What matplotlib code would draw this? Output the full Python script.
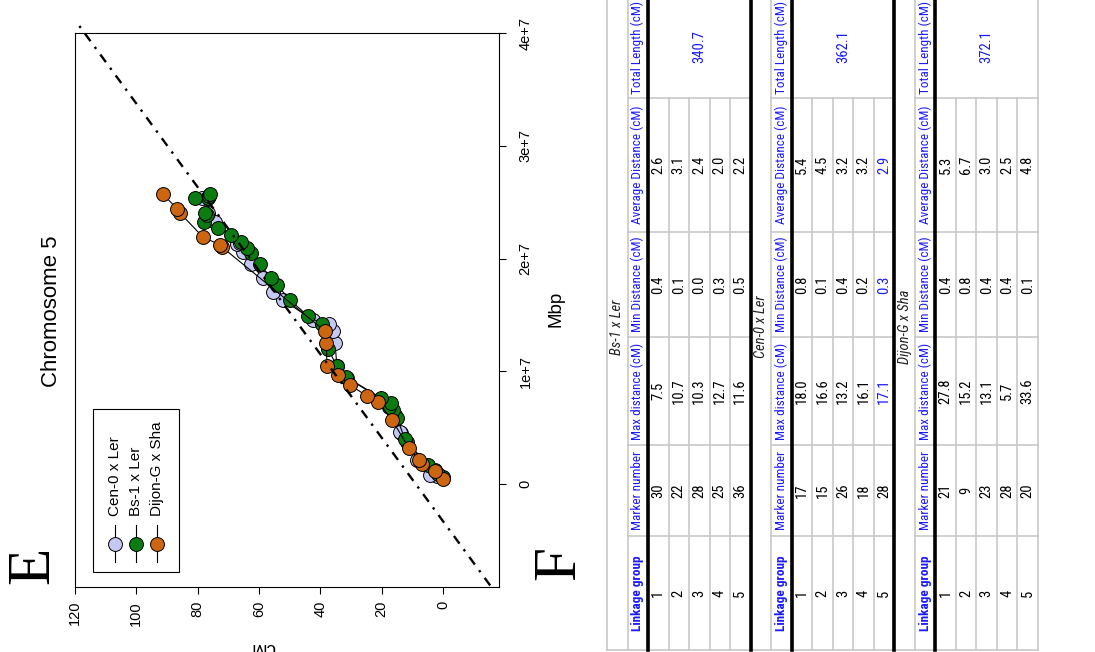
import matplotlib
matplotlib.use("Agg")
import matplotlib.pyplot as plt
import numpy as np
from matplotlib import font_manager
from matplotlib.patches import Rectangle

plt.rcParams["font.family"] = ["Liberation Sans", "DejaVu Sans"]

W, H = 1095, 652

# ── Chromosome 5: genetic map position (cM) against physical position (Mb) ──
cen0_mb = [0.71, 0.80, 2.13, 4.52, 4.62, 6.12, 7.10, 9.40, 10.47, 12.51, 13.57,
           14.19, 14.55, 16.32, 17.03, 18.27, 19.51, 20.58, 21.29, 21.37, 23.24,
           24.04, 25.37]
cen0_cm = [2.0, 4.2, 8.5, 13.7, 14.0, 15.7, 17.3, 31.3, 34.6, 35.2, 35.9,
           37.2, 42.4, 52.2, 55.4, 58.7, 62.6, 65.2, 67.2, 66.2, 74.3,
           76.6, 78.6]

bs1_mb = [0.62, 0.89, 1.24, 1.69, 3.73, 3.99, 5.85, 6.56, 6.83, 7.18, 7.63,
          9.49, 10.47, 11.97, 14.19, 14.90, 16.32, 17.65, 18.27, 19.51, 20.49,
          20.93, 21.46, 22.08, 22.71, 23.24, 23.86, 24.04, 25.37, 25.37, 25.50,
          25.72]
bs1_cm = [0.0, 1.6, 2.6, 4.9, 11.7, 12.4, 15.0, 16.3, 17.6, 16.9, 20.2,
          31.6, 34.6, 37.5, 39.5, 44.0, 49.9, 54.1, 56.1, 59.7, 62.6,
          63.9, 65.9, 69.1, 73.4, 77.9, 77.0, 77.6, 76.6, 80.9, 76.3,
          76.0]

dijon_mb = [0.44, 1.15, 1.78, 2.13, 3.19, 5.68, 7.27, 7.80, 8.78, 9.67, 10.47,
            12.51, 13.57, 21.02, 21.20, 21.91, 24.04, 24.39, 25.72]
dijon_cm = [0.0, 2.6, 6.8, 7.8, 11.1, 16.6, 21.2, 24.8, 30.3, 34.2, 37.8,
            38.1, 38.5, 72.1, 72.7, 78.3, 85.8, 86.7, 91.3]

# reference line through the map: cM = intercept + slope * Mb
ref_intercept = 8.9
ref_slope = 2.7

series_names = ["Cen-0 x Ler", "Bs-1 x Ler", "Dijon-G x Sha"]
series_colors = ["#c6c8f4", "#0b7b12", "#cc6612"]

cm_ticks = [0, 20, 40, 60, 80, 100, 120]
bp_ticks = [0, 1e7, 2e7, 3e7, 4e7]
bp_tick_labels = ["0", "1e+7", "2e+7", "3e+7", "4e+7"]

# ── Linkage map summary per cross ──
table_titles = ["Bs-1 x Ler", "Cen-0 x Ler", "Dijon-G x Sha"]
col_headers = ["Linkage group", "Marker number", "Max distance (cM)",
               "Min Distance (cM)", "Average Distance (cM)", "Total Length (cM)"]
linkage_groups = [1, 2, 3, 4, 5]
marker_number = [[30, 22, 28, 25, 36], [17, 15, 26, 18, 28], [21, 9, 23, 28, 20]]
max_dist = [[7.5, 10.7, 10.3, 12.7, 11.6], [18.0, 16.6, 13.2, 16.1, 17.1],
            [27.8, 15.2, 13.1, 5.7, 33.6]]
min_dist = [[0.4, 0.1, 0.0, 0.3, 0.5], [0.8, 0.1, 0.4, 0.2, 0.3],
            [0.4, 0.8, 0.4, 0.4, 0.1]]
avg_dist = [[2.6, 3.1, 2.4, 2.0, 2.2], [5.4, 4.5, 3.2, 3.2, 2.9],
            [5.3, 6.7, 3.0, 2.5, 4.8]]
total_length = [340.7, 362.1, 372.1]
# (table, row) -> columns printed in blue
highlighted = {(1, 4): [2, 3, 4]}

BLUE = "#1a1aff"
GREY = "#c8c8c8"

# the table wants a narrow face; use one if the system has it
installed = {f.name for f in font_manager.fontManager.ttflist}
narrow_face = next((n for n in ["Liberation Sans Narrow", "Roboto Condensed",
                                "Open Sans Condensed", "Noto Sans Condensed",
                                "DejaVu Sans Condensed"] if n in installed), None)
if narrow_face:
    NARROW = [narrow_face, "Liberation Sans"]
    cell_fs, head_fs, title_fs = 10.5, 9.5, 10.5
else:
    NARROW = ["Liberation Sans"]
    cell_fs, head_fs, title_fs = 8.5, 7.8, 8.5

fig = plt.figure(figsize=(W / 100, H / 100), dpi=100)

# ── Panel E: map position scatter, drawn turned on its side ──
ax = fig.add_axes([75 / W, 1 - 587 / H, 424 / W, 554 / H])
for mb, cm, color in zip([cen0_mb, bs1_mb, dijon_mb],
                         [cen0_cm, bs1_cm, dijon_cm], series_colors):
    ax.plot(cm, np.array(mb) * 1e6, "-o", color="black", lw=0.8,
            mfc=color, mec="black", mew=0.7, ms=10)

ref_bp = np.array([-0.9e7, 4.07e7])
ax.plot(ref_intercept + ref_slope * ref_bp / 1e6, ref_bp, color="black",
        lw=1.7, dashes=(4, 3, 1, 3), clip_on=False)

ax.set_xlim(120, -18.26)
ax.set_ylim(-0.9135e7, 4e7)
ax.set_xticks(cm_ticks)
ax.set_xticklabels([str(t) for t in cm_ticks], rotation=90, ha="center", va="top")
ax.yaxis.tick_right()
ax.set_yticks(bp_ticks)
ax.set_yticklabels(bp_tick_labels, rotation=90, ha="left", va="center")
ax.tick_params(axis="x", direction="out", length=5, width=0.8, labelsize=10.5, pad=5)
ax.tick_params(axis="y", direction="out", length=5, width=0.8, labelsize=10.5, pad=9)
for sp in ax.spines.values():
    sp.set_linewidth(0.8)

# overlay in pixel units for labels, legend and the table
ov = fig.add_axes([0, 0, 1, 1])
ov.set_xlim(0, W)
ov.set_ylim(H, 0)
ov.axis("off")

ov.text(52, 311, "Chromosome 5", rotation=90, ha="center", va="center", fontsize=16)
ov.text(556, 309, "Mbp", rotation=90, ha="center", va="center", fontsize=13.5)
ov.text(263, 639, "cM", rotation=180, ha="center", va="top", fontsize=13.5,
        clip_on=False)
ov.text(33, 565, "E", family="Liberation Serif", fontsize=44, rotation=90,
        ha="center", va="center")
ov.text(560, 563, "F", family="Liberation Serif", fontsize=44, rotation=90,
        ha="center", va="center")

# legend
ov.add_patch(Rectangle((93, 409), 86, 163, fill=False, ec="black", lw=0.8))
for i, (name, color) in enumerate(zip(series_names, series_colors)):
    lx = 115 + i * 21
    ov.plot([lx, lx], [525, 562], color="black", lw=0.8)
    ov.plot([lx], [544], "o", mfc=color, mec="black", mew=0.7, ms=10)
    ov.text(lx, 516, name, rotation=90, ha="center", va="bottom", fontsize=11)

# ── Panel F: summary tables ──
col_edges = [650, 536, 445, 337, 232, 98, -4]
strip = 20.5
block = 143.7
for k in range(3):
    x0 = 607 + k * block
    xh = x0 + strip
    xr = x0 + 2 * strip
    xe = xr + 5 * strip

    # grid
    if k == 0:
        ov.plot([x0, x0], [-12, 650], color=GREY, lw=1.2)
    ov.plot([xh, xh], [-12, 650], color=GREY, lw=1.2)
    for i in range(1, 5):
        xx = xr + i * strip
        ov.plot([xx, xx], [col_edges[5], 650], color=GREY, lw=1.2)
    for yy in col_edges[1:6]:
        ov.plot([xh, xe], [yy, yy], color=GREY, lw=1.2)
    ov.plot([xr, xr], [-12, 650], color="black", lw=2.6, zorder=3)
    if k < 2:
        ov.plot([xe, xe], [-12, 650], color="black", lw=2.6, zorder=3)
    else:
        ov.plot([xe, xe], [-12, 650], color=GREY, lw=1.2)

    ov.text(x0 + strip / 2, 327, table_titles[k], rotation=90, ha="center",
            va="center", fontsize=title_fs, style="italic", family=NARROW,
            color="#222222")

    centres = [(col_edges[j] + col_edges[j + 1]) / 2 for j in range(6)]
    for j, head in enumerate(col_headers):
        ov.text(xh + strip / 2, centres[j], head, rotation=90, ha="center",
                va="center", fontsize=head_fs, family=NARROW, color=BLUE,
                fontweight="bold" if j == 0 else "normal")

    for i in range(5):
        xc = xr + (i + 0.5) * strip
        cells = [str(linkage_groups[i]), str(marker_number[k][i]),
                 f"{max_dist[k][i]:.1f}", f"{min_dist[k][i]:.1f}",
                 f"{avg_dist[k][i]:.1f}"]
        blue_cols = highlighted.get((k, i), [])
        for j, val in enumerate(cells):
            ov.text(xc, centres[j], val, rotation=90, ha="center", va="center",
                    fontsize=cell_fs, family=NARROW,
                    color=BLUE if j in blue_cols else "black")
    ov.text(xr + 2.5 * strip, 47, f"{total_length[k]:.1f}", rotation=90,
            ha="center", va="center", fontsize=cell_fs, family=NARROW, color=BLUE)

ov.plot([607, 607 + 2 * block + 2 * strip + 5 * strip], [650, 650], color=GREY, lw=1.2)

fig.savefig("out.png", dpi=100)
